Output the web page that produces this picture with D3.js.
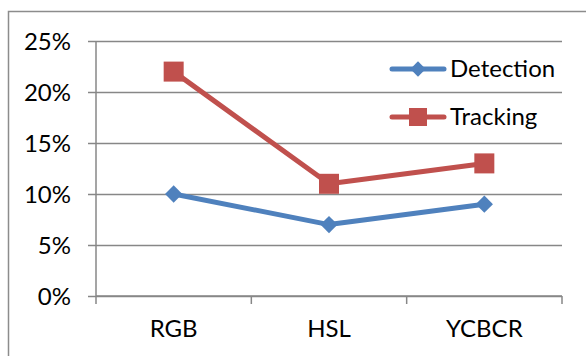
<!DOCTYPE html>
<html>
<head>
<meta charset="utf-8">
<script src="https://cdn.jsdelivr.net/npm/d3@7"></script>
<style>
  html, body { margin: 0; padding: 0; background: #fff; }
  svg { display: block; font-family: Lato, "Open Sans", sans-serif; }
</style>
</head>
<body>
<svg id="chart" width="586" height="356"></svg>
<script>
// Colour spaces compared and the error rate for each task
const categories = ["RGB", "HSL", "YCBCR"];
const detection = [0.10, 0.07, 0.09];
const tracking = [0.22, 0.11, 0.13];
const yTicks = [0, 0.05, 0.10, 0.15, 0.20, 0.25];
const seriesNames = ["Detection", "Tracking"];

const svg = d3.select("#chart");
const W = 586, H = 356;
const plot = { left: 96, right: 562, top: 41, bottom: 296 };
const fontSize = "24px";

// outer frame (left and top edges visible)
svg.append("path")
  .attr("d", `M8.5,${H} V11.5 H${W}`)
  .attr("fill", "none").attr("stroke", "#8c8c8c").attr("stroke-width", 1.5);

const x = d3.scaleBand().domain(categories).range([plot.left, plot.right]).padding(0);
const y = d3.scaleLinear().domain([0, 0.25]).range([plot.bottom, plot.top]);

const gridColor = "#878787";

// horizontal gridlines, extended left as tick marks
const yAxis = d3.axisLeft(y).tickValues(yTicks)
  .tickFormat(d3.format(".0%"))
  .tickSize(-(plot.right - plot.left)).tickPadding(0);
const gy = svg.append("g").attr("transform", `translate(${plot.left},0)`).call(yAxis);
gy.select(".domain").remove();
gy.selectAll(".tick line").attr("x1", -8).attr("stroke", gridColor).attr("stroke-width", 1.5);
gy.selectAll(".tick text").attr("x", -25).attr("dy", "0.36em")
  .attr("fill", "#000").style("font-size", fontSize).style("font-family", "Lato, sans-serif");

// vertical axis line
svg.append("line")
  .attr("x1", plot.left).attr("x2", plot.left)
  .attr("y1", plot.top).attr("y2", plot.bottom + 8)
  .attr("stroke", gridColor).attr("stroke-width", 1.5);

// category axis with ticks at band boundaries
const gx = svg.append("g").attr("transform", `translate(0,${plot.bottom})`);
gx.append("line").attr("x1", plot.left).attr("x2", plot.right)
  .attr("stroke", gridColor).attr("stroke-width", 1.5);
const bounds = categories.map(c => x(c) + x.bandwidth());
gx.selectAll("line.tk").data(bounds).join("line").attr("class", "tk")
  .attr("x1", d => d).attr("x2", d => d).attr("y1", 0).attr("y2", 8)
  .attr("stroke", gridColor).attr("stroke-width", 1.5);
gx.selectAll("text").data(categories).join("text")
  .attr("x", d => x(d) + x.bandwidth() / 2).attr("y", 41)
  .attr("text-anchor", "middle").attr("fill", "#000")
  .style("font-size", fontSize).text(d => d);

const cx = c => x(c) + x.bandwidth() / 2;
const line = d3.line().x((d, i) => cx(categories[i])).y(d => y(d));

const blue = "#4F81BD", red = "#C0504D";

// Detection series
svg.append("path").datum(detection).attr("d", line)
  .attr("fill", "none").attr("stroke", blue).attr("stroke-width", 5)
  .attr("stroke-linejoin", "round");
const diamond = d3.symbol().type(d3.symbolDiamond2).size(190);
svg.selectAll("path.det").data(detection).join("path").attr("class", "det")
  .attr("d", diamond)
  .attr("transform", (d, i) => `translate(${cx(categories[i])},${y(d)})`)
  .attr("fill", blue);

// Tracking series
svg.append("path").datum(tracking).attr("d", line)
  .attr("fill", "none").attr("stroke", red).attr("stroke-width", 5)
  .attr("stroke-linejoin", "round");
svg.selectAll("rect.trk").data(tracking).join("rect").attr("class", "trk")
  .attr("x", (d, i) => cx(categories[i]) - 10).attr("y", d => y(d) - 10)
  .attr("width", 20).attr("height", 20).attr("fill", red);

// legend
const legendY = [69, 117];
const colors = [blue, red];
const lg = svg.append("g");
seriesNames.forEach((name, i) => {
  const g = lg.append("g").attr("transform", `translate(0,${legendY[i]})`);
  g.append("line").attr("x1", 392).attr("x2", 444).attr("stroke", colors[i])
    .attr("stroke-width", 5).attr("stroke-linecap", "round");
  if (i === 0) {
    g.append("path").attr("d", d3.symbol().type(d3.symbolDiamond2).size(150))
      .attr("transform", "translate(418,0)").attr("fill", colors[i]);
  } else {
    g.append("rect").attr("x", 409).attr("y", -9).attr("width", 18).attr("height", 18)
      .attr("fill", colors[i]);
  }
  g.append("text").attr("x", 450).attr("y", 0).attr("dy", "0.35em")
    .attr("fill", "#000").style("font-size", fontSize).text(name);
});
</script>
</body>
</html>
